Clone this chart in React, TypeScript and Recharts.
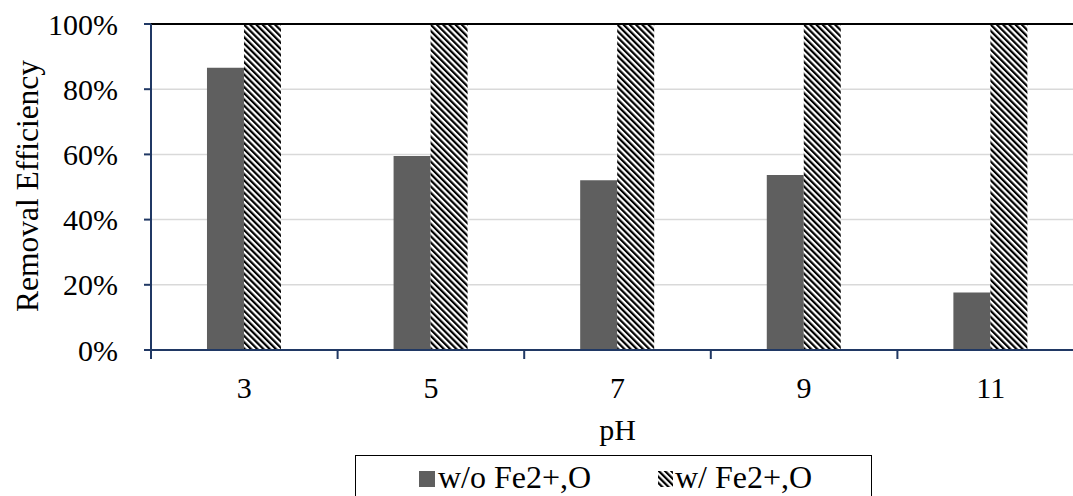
import { BarChart, Bar, XAxis, YAxis, CartesianGrid, Legend, ReferenceLine } from "recharts";

const phLevels = ["3", "5", "7", "9", "11"];
const withoutFe = [86.6, 59.5, 52.1, 53.7, 17.6];
const withFe = [100, 100, 100, 100, 100];
const yTicks = [0, 20, 40, 60, 80, 100];

const data = phLevels.map((ph, i) => ({ ph, without: withoutFe[i], with: withFe[i] }));

const FONT = "Liberation Serif";
const NAVY = "#203864";
const GREY = "#5f5f5f";

// plot is 933px wide, 5 categories
const BAND = 933 / phLevels.length;

const LegendBox = () => (
  <div style={{ width: 517, height: 50, boxSizing: "border-box", border: "1.5px solid #000" }}>
    <svg width={514} height={48} style={{ display: "block" }}>
      <rect x={63} y={15} width={16} height={16} fill={GREY} />
      <text x={82} y={32} fontFamily={FONT} fontSize={32} fill="#000">
        w/o Fe2+,O
      </text>
      <rect x={302} y={15} width={15} height={16} fill="url(#hatch)" />
      <text x={319} y={32} fontFamily={FONT} fontSize={32} fill="#000">
        w/ Fe2+,O
      </text>
    </svg>
  </div>
);

const YLabel = () => (
  <text
    x={27}
    y={186}
    transform="rotate(-90 27 186)"
    textAnchor="middle"
    dominantBaseline="central"
    fontFamily={FONT}
    fontSize={31.5}
    fill="#000"
  >
    Removal Efficiency
  </text>
);

const PhTick = (props: any) => {
  const { x, y, payload, index } = props;
  return (
    <g>
      {index === 0 && <line x1={x - BAND / 2} x2={x - BAND / 2} y1={y} y2={y + 9} stroke={NAVY} strokeWidth={2} />}
      <line x1={x + BAND / 2} x2={x + BAND / 2} y1={y} y2={y + 9} stroke={NAVY} strokeWidth={2} />
      <text x={x} y={y + 48} textAnchor="middle" fontFamily={FONT} fontSize={30} fill="#000">
        {payload.value}
      </text>
    </g>
  );
};

export default function App() {
  return (
    <div style={{ position: "absolute", left: 0, top: 0, width: 1073, height: 496, overflow: "hidden", background: "#fff" }}>
      <BarChart
        width={1100}
        height={520}
        data={data}
        margin={{ top: 24, right: 16, left: 0, bottom: 25 }}
        barCategoryGap="30%"
        barGap={0}
      >
        <defs>
          <pattern id="hatch" width={4.4} height={4.4} patternUnits="userSpaceOnUse" patternTransform="rotate(-45)">
            <rect width={4.4} height={4.4} fill="#fff" />
            <rect width={2.2} height={4.4} fill="#000" />
          </pattern>
        </defs>
        <CartesianGrid vertical={false} stroke="#d9d9d9" strokeWidth={1.5} />
        <XAxis
          dataKey="ph"
          height={95}
          axisLine={{ stroke: NAVY, strokeWidth: 2 }}
          tickLine={false}
          tickSize={0}
          tickMargin={0}
          interval={0}
          tick={<PhTick />}
          label={{ value: "pH", position: "insideBottom", offset: 5, fill: "#000", fontSize: 30, fontFamily: FONT }}
        />
        <YAxis
          width={151}
          domain={[0, 100]}
          ticks={yTicks}
          tickFormatter={(v) => `${v}%`}
          tickSize={7}
          tickMargin={26}
          tickLine={{ stroke: NAVY, strokeWidth: 2 }}
          axisLine={{ stroke: NAVY, strokeWidth: 2 }}
          tick={{ fill: "#000", fontSize: 30, fontFamily: FONT }}
          label={<YLabel />}
        />
        <ReferenceLine y={100} stroke="#000" strokeWidth={2} />
        <Legend
          content={() => <LegendBox />}
          wrapperStyle={{ left: 355, top: 455, width: 517, bottom: "auto" }}
        />
        <Bar dataKey="without" name="w/o Fe2+,O" fill={GREY} isAnimationActive={false} />
        <Bar dataKey="with" name="w/ Fe2+,O" fill="url(#hatch)" isAnimationActive={false} />
      </BarChart>
    </div>
  );
}
